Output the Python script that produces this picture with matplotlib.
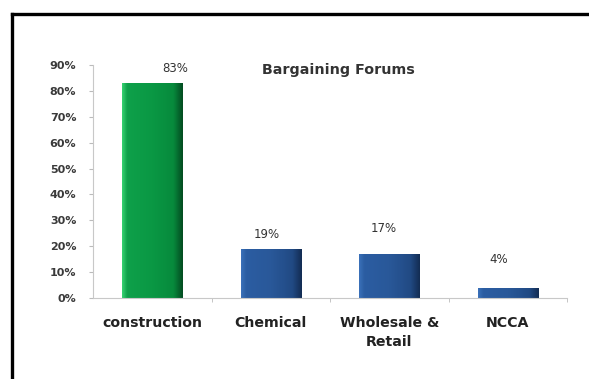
import numpy as np
import matplotlib.pyplot as plt
from matplotlib.colors import LinearSegmentedColormap
from matplotlib.lines import Line2D

categories = ["construction", "Chemical", "Wholesale &\nRetail", "NCCA"]
shares = [0.83, 0.19, 0.17, 0.04]
share_labels = ["83%", "19%", "17%", "4%"]
yticks = [0.0, 0.1, 0.2, 0.3, 0.4, 0.5, 0.6, 0.7, 0.8, 0.9]
ytick_labels = ["0%", "10%", "20%", "30%", "40%", "50%", "60%", "70%", "80%", "90%"]

# label offsets (points) relative to bar top centre
label_dx = [16.5, -3.2, -4.3, -6.5]
label_dy = [10.8, 10.0, 18.7, 20.0]

green = LinearSegmentedColormap.from_list(
    "g", [(0, "#35d070"), (0.08, "#0ea04a"), (0.5, "#0a9844"),
          (0.85, "#078a3c"), (1, "#034d22")])
blue = LinearSegmentedColormap.from_list(
    "b", [(0, "#3a70b8"), (0.08, "#2b5da2"), (0.5, "#295899"),
          (0.85, "#214a84"), (1, "#132d54")])
cmaps = [green, blue, blue, blue]

plt.rcParams["font.family"] = ["DejaVu Sans"]

fig = plt.figure(figsize=(5.89, 3.79), dpi=100)
ax = fig.add_axes([93 / 589, 81 / 379, 474 / 589, 233 / 379])

xs = np.arange(len(categories))
bars = ax.bar(xs, shares, width=0.51, color="none", edgecolor="none")

grad = np.linspace(0, 1, 64).reshape(1, -1)
for bar, cm in zip(bars, cmaps):
    x0, w, h = bar.get_x(), bar.get_width(), bar.get_height()
    im = ax.imshow(grad, cmap=cm, aspect="auto", extent=(x0, x0 + w, 0, h),
                   interpolation="bicubic", zorder=2)
    im.set_clip_path(bar)

for x, v, lab, dx, dy in zip(xs, shares, share_labels, label_dx, label_dy):
    ax.annotate(lab, (x, v), xytext=(dx, dy), textcoords="offset points",
                ha="center", va="center", fontsize=8.5, color="#333333")

ax.set_xlim(-0.5, 3.5)
ax.set_ylim(0, 0.9)
ax.set_yticks(yticks)
ax.set_yticklabels(ytick_labels, fontsize=8, fontweight="bold", color="#3a3a3a")
ax.set_xticks(xs)
ax.set_xticklabels(categories, fontsize=10.2, fontweight="bold", color="#222222",
                   linespacing=1.45)
ax.set_xticks([0.5, 1.5, 2.5, 3.5], minor=True)
ax.tick_params(axis="x", which="major", length=0, pad=13)
ax.tick_params(axis="x", which="minor", length=3, color="#bbbbbb", direction="out")
ax.tick_params(axis="y", length=3, color="#bbbbbb", pad=9)

for side in ("top", "right"):
    ax.spines[side].set_visible(False)
for side in ("left", "bottom"):
    ax.spines[side].set_color("#c8c8c8")
    ax.spines[side].set_linewidth(0.8)

fig.text(338 / 589, 1 - 70 / 379, "Bargaining Forums", ha="center", va="center",
         fontsize=10.3, fontweight="bold", color="#333333")

# outer border, clipped at the right and bottom edges of the image
fig.add_artist(Line2D([12 / 589, 12 / 589], [0, 1 - 14 / 379],
                      transform=fig.transFigure, color="black", lw=2.4))
fig.add_artist(Line2D([12 / 589, 1], [1 - 14 / 379, 1 - 14 / 379],
                      transform=fig.transFigure, color="black", lw=2.4))

fig.savefig("out.png", dpi=100)
